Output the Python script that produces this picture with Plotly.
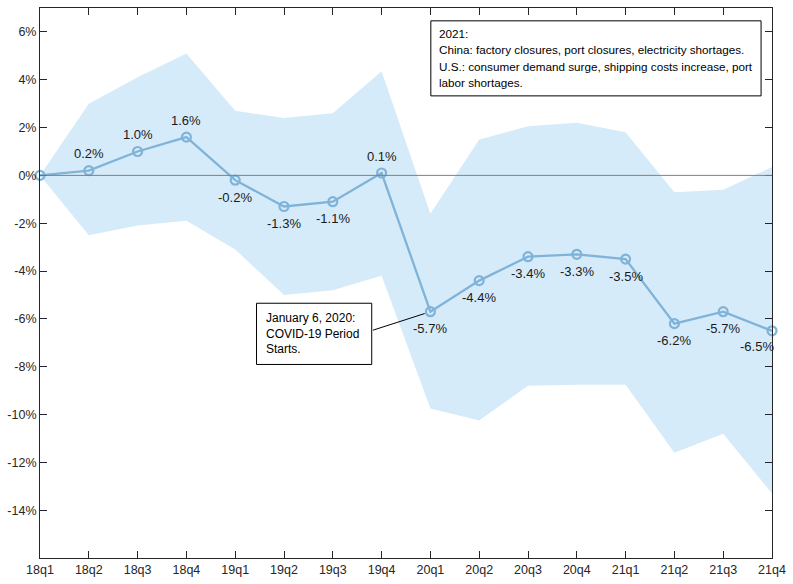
import plotly.graph_objects as go

quarters = ["18q1", "18q2", "18q3", "18q4", "19q1", "19q2", "19q3", "19q4",
            "20q1", "20q2", "20q3", "20q4", "21q1", "21q2", "21q3", "21q4"]
estimate = [0.0, 0.2, 1.0, 1.6, -0.2, -1.3, -1.1, 0.1,
            -5.7, -4.4, -3.4, -3.3, -3.5, -6.2, -5.7, -6.5]
upper = [0.0, 3.0, 4.1, 5.1, 2.7, 2.4, 2.6, 4.35,
         -1.6, 1.5, 2.05, 2.2, 1.8, -0.7, -0.6, 0.35]
lower = [0.0, -2.5, -2.1, -1.9, -3.1, -5.0, -4.8, -4.2,
         -9.75, -10.25, -8.8, -8.75, -8.75, -11.6, -10.8, -13.3]
ytick_vals = [-14, -12, -10, -8, -6, -4, -2, 0, 2, 4, 6]

x = list(range(len(quarters)))
FONT = "Liberation Sans, Arial, sans-serif"
LINE_COLOR = "#80b3d8"
BAND_COLOR = "#d6ebf9"

W, H = 793, 584
ML, MR, MT, MB = 40, 16, 7, 20

fig = go.Figure()

# confidence band
fig.add_trace(go.Scatter(x=x, y=lower, mode="lines", line=dict(width=0),
                         hoverinfo="skip", showlegend=False))
fig.add_trace(go.Scatter(x=x, y=upper, mode="lines", line=dict(width=0),
                         fill="tonexty", fillcolor=BAND_COLOR,
                         hoverinfo="skip", showlegend=False))

# point estimates
fig.add_trace(go.Scatter(
    x=x, y=estimate, mode="lines+markers",
    line=dict(color=LINE_COLOR, width=2.3),
    marker=dict(symbol="circle-open", size=9, color=LINE_COLOR,
                line=dict(width=2.2, color=LINE_COLOR)),
    cliponaxis=False, showlegend=False))

# zero reference line
fig.add_shape(type="line", xref="paper", yref="y", x0=0, x1=1, y0=0, y1=0,
              line=dict(color="#808080", width=1), layer="above")

annotations = []
for i, v in enumerate(estimate):
    if i == 0:
        continue
    above = v > 0
    xs, ys = 0, (17 if above else -17)
    if i == len(estimate) - 1:
        xs, ys = -15, -16
    annotations.append(dict(x=i, y=v, xref="x", yref="y", text=f"{v:.1f}%",
                            showarrow=False, xshift=xs, yshift=ys,
                            font=dict(size=13, color="#1a1a1a", family=FONT)))

# plot area in pixels
PW = W - ML - MR
PH = H - MT - MB

def px(xp):
    return (xp - ML) / PW

def py(yp):
    return (H - MB - yp) / PH

# 2021 note
fig.add_shape(type="rect", xref="paper", yref="paper",
              x0=px(433.5), x1=px(766), y0=py(20), y1=py(96),
              line=dict(color="#000000", width=1), fillcolor="white", layer="above")
note1 = ["2021:",
         "China: factory closures, port closures, electricity shortages.",
         "U.S.: consumer demand surge, shipping costs increase, port",
         "labor shortages."]
for k, line in enumerate(note1):
    annotations.append(dict(x=px(440), y=py(33 + 16.5 * k), xref="paper", yref="paper",
                            xanchor="left", yanchor="middle", text=line, showarrow=False,
                            font=dict(size=11.7, color="#000000", family=FONT)))

# COVID note
fig.add_shape(type="rect", xref="paper", yref="paper",
              x0=px(258), x1=px(374), y0=py(306), y1=py(368),
              line=dict(color="#000000", width=1), fillcolor="white", layer="above")
note2 = ["January 6, 2020:", "COVID-19 Period", "Starts."]
for k, line in enumerate(note2):
    annotations.append(dict(x=px(266), y=py(321 + 15.7 * k), xref="paper", yref="paper",
                            xanchor="left", yanchor="middle", text=line, showarrow=False,
                            font=dict(size=12, color="#000000", family=FONT)))
annotations.append(dict(x=8, y=estimate[8], xref="x", yref="y", text="",
                        showarrow=True, arrowhead=0, arrowwidth=1, arrowcolor="#000000",
                        ax=-59, ay=19, standoff=6))

axis_common = dict(showline=True, linecolor="#262626", linewidth=1, mirror="ticks",
                   ticks="inside", ticklen=7, tickcolor="#262626", showgrid=False,
                   zeroline=False, tickfont=dict(size=12.5, color="#262626", family=FONT))

fig.update_layout(
    width=W, height=H,
    margin=dict(l=ML, r=MR, t=MT, b=MB),
    paper_bgcolor="white", plot_bgcolor="white",
    font=dict(family=FONT),
    annotations=annotations,
    xaxis=dict(range=[0, 15], tickvals=x, ticktext=quarters, **axis_common),
    yaxis=dict(range=[-16, 7], tickvals=ytick_vals,
               ticktext=[f"{v}%" for v in ytick_vals], **axis_common),
)

fig.write_html("out.html")
